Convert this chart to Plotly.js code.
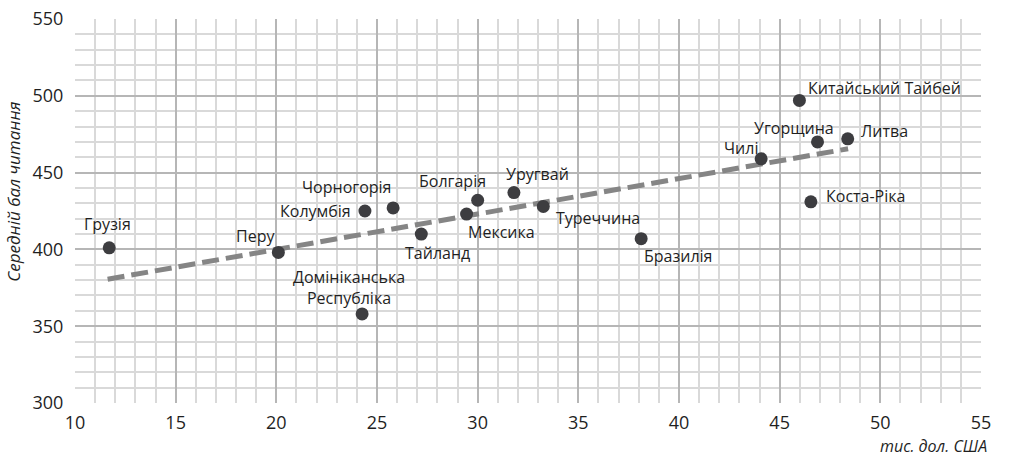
<!DOCTYPE html>
<html>
<head>
<meta charset="utf-8">
<script src="https://cdn.plot.ly/plotly-3.0.1.min.js"></script>
<style>
html,body{margin:0;padding:0;background:#fff;}
#chart{width:1010px;height:458px;}
</style>
</head>
<body>
<div id="chart"></div>
<script>
// Data (GDP per capita, thousand USD; mean reading score)
const countries = ["Грузія","Перу","Домініканська<br>Республіка","Колумбія","Чорногорія","Тайланд","Мексика","Болгарія","Уругвай","Туреччина","Бразилія","Чилі","Китайський Тайбей","Угорщина","Литва","Коста-Ріка"];
const gdp =    [11.7, 20.1, 24.26, 24.4, 25.8, 27.2, 29.45, 30.0, 31.8, 33.26, 38.12, 44.08, 45.98, 46.88, 48.38, 46.55];
const score =  [401, 398, 358, 425, 427, 410, 423, 432, 437, 428, 407, 459, 497, 470, 472, 431];
// Trend line endpoints
const trendX = [11.62, 48.4];
const trendY = [380.6, 465.5];
const xTicks = [10, 15, 20, 25, 30, 35, 40, 45, 50, 55];
const yTicks = [300, 350, 400, 450, 500, 550];

// Label placement (pixel offsets, anchor)
const labelPos = [
  {xa:"center", dx:-2, dy:24},
  {xa:"right", dx:-1, dy:16},
  {xa:"center", dx:-13, dy:26},
  {xa:"right", dx:-12, dy:0},
  {xa:"right", dx:0, dy:21},
  {xa:"left", dx:-18, dy:-19},
  {xa:"left", dx:-1, dy:-18},
  {xa:"right", dx:10, dy:19},
  {xa:"left", dx:-10, dy:19},
  {xa:"left", dx:11, dy:-12},
  {xa:"left", dx:1, dy:-17},
  {xa:"right", dx:-1, dy:11},
  {xa:"left", dx:7, dy:12},
  {xa:"right", dx:18, dy:14},
  {xa:"left", dx:11, dy:8},
  {xa:"left", dx:13, dy:6}
];

const FONT = "Open Sans, sans-serif";
const annotations = countries.map((c,i)=>({
  x: gdp[i], y: score[i], xref:"x", yref:"y", text:c, showarrow:false,
  xanchor: labelPos[i].xa, yanchor:"middle",
  xshift: labelPos[i].dx, yshift: labelPos[i].dy,
  font:{family:FONT, size:16, color:"#1f1f1f"}, align:"center"
}));
annotations.push({
  xref:"paper", yref:"paper", x:-0.0673, y:0.55, textangle:-90,
  text:"<i>Середній бал читання</i>", showarrow:false, xanchor:"center", yanchor:"middle",
  font:{family:FONT, size:17, color:"#1f1f1f"}
});
annotations.push({
  xref:"paper", yref:"paper", x:0.886, y:-0.112,
  text:"<i>тис. дол. США</i>", showarrow:false, xanchor:"left", yanchor:"middle",
  font:{family:FONT, size:16, color:"#1f1f1f"}
});

const traces = [
  {x:trendX, y:trendY, mode:"lines", type:"scatter",
   line:{color:"#858585", width:5, dash:"17px,7px"}, hoverinfo:"skip"},
  {x:gdp, y:score, mode:"markers", type:"scatter",
   marker:{color:"#3d3d40", size:13}}
];

const axisCommon = {
  showgrid:true, gridcolor:"#b6b6b6", gridwidth:2, zeroline:false,
  showline:false, ticks:"outside", tickcolor:"rgba(0,0,0,0)",
  tickfont:{family:FONT, size:18, color:"#1f1f1f"}
};

const layout = {
  width:1010, height:458,
  margin:{l:75, r:29, t:18.5, b:55},
  paper_bgcolor:"#fff", plot_bgcolor:"#fff",
  showlegend:false,
  xaxis:Object.assign({}, axisCommon, {range:[10,55], tickvals:xTicks, ticktext:xTicks.map(String), ticklen:3,
    minor:{dtick:1, tick0:10, showgrid:true, gridcolor:"#d9d9d9", gridwidth:2}}),
  yaxis:Object.assign({}, axisCommon, {range:[300,550], tickvals:yTicks, ticktext:yTicks.map(String), ticklen:7,
    minor:{dtick:10, tick0:300, showgrid:true, gridcolor:"#d9d9d9", gridwidth:2}}),
  annotations: annotations
};

Plotly.newPlot("chart", traces, layout, {displayModeBar:false, staticPlot:true});
</script>
</body>
</html>
